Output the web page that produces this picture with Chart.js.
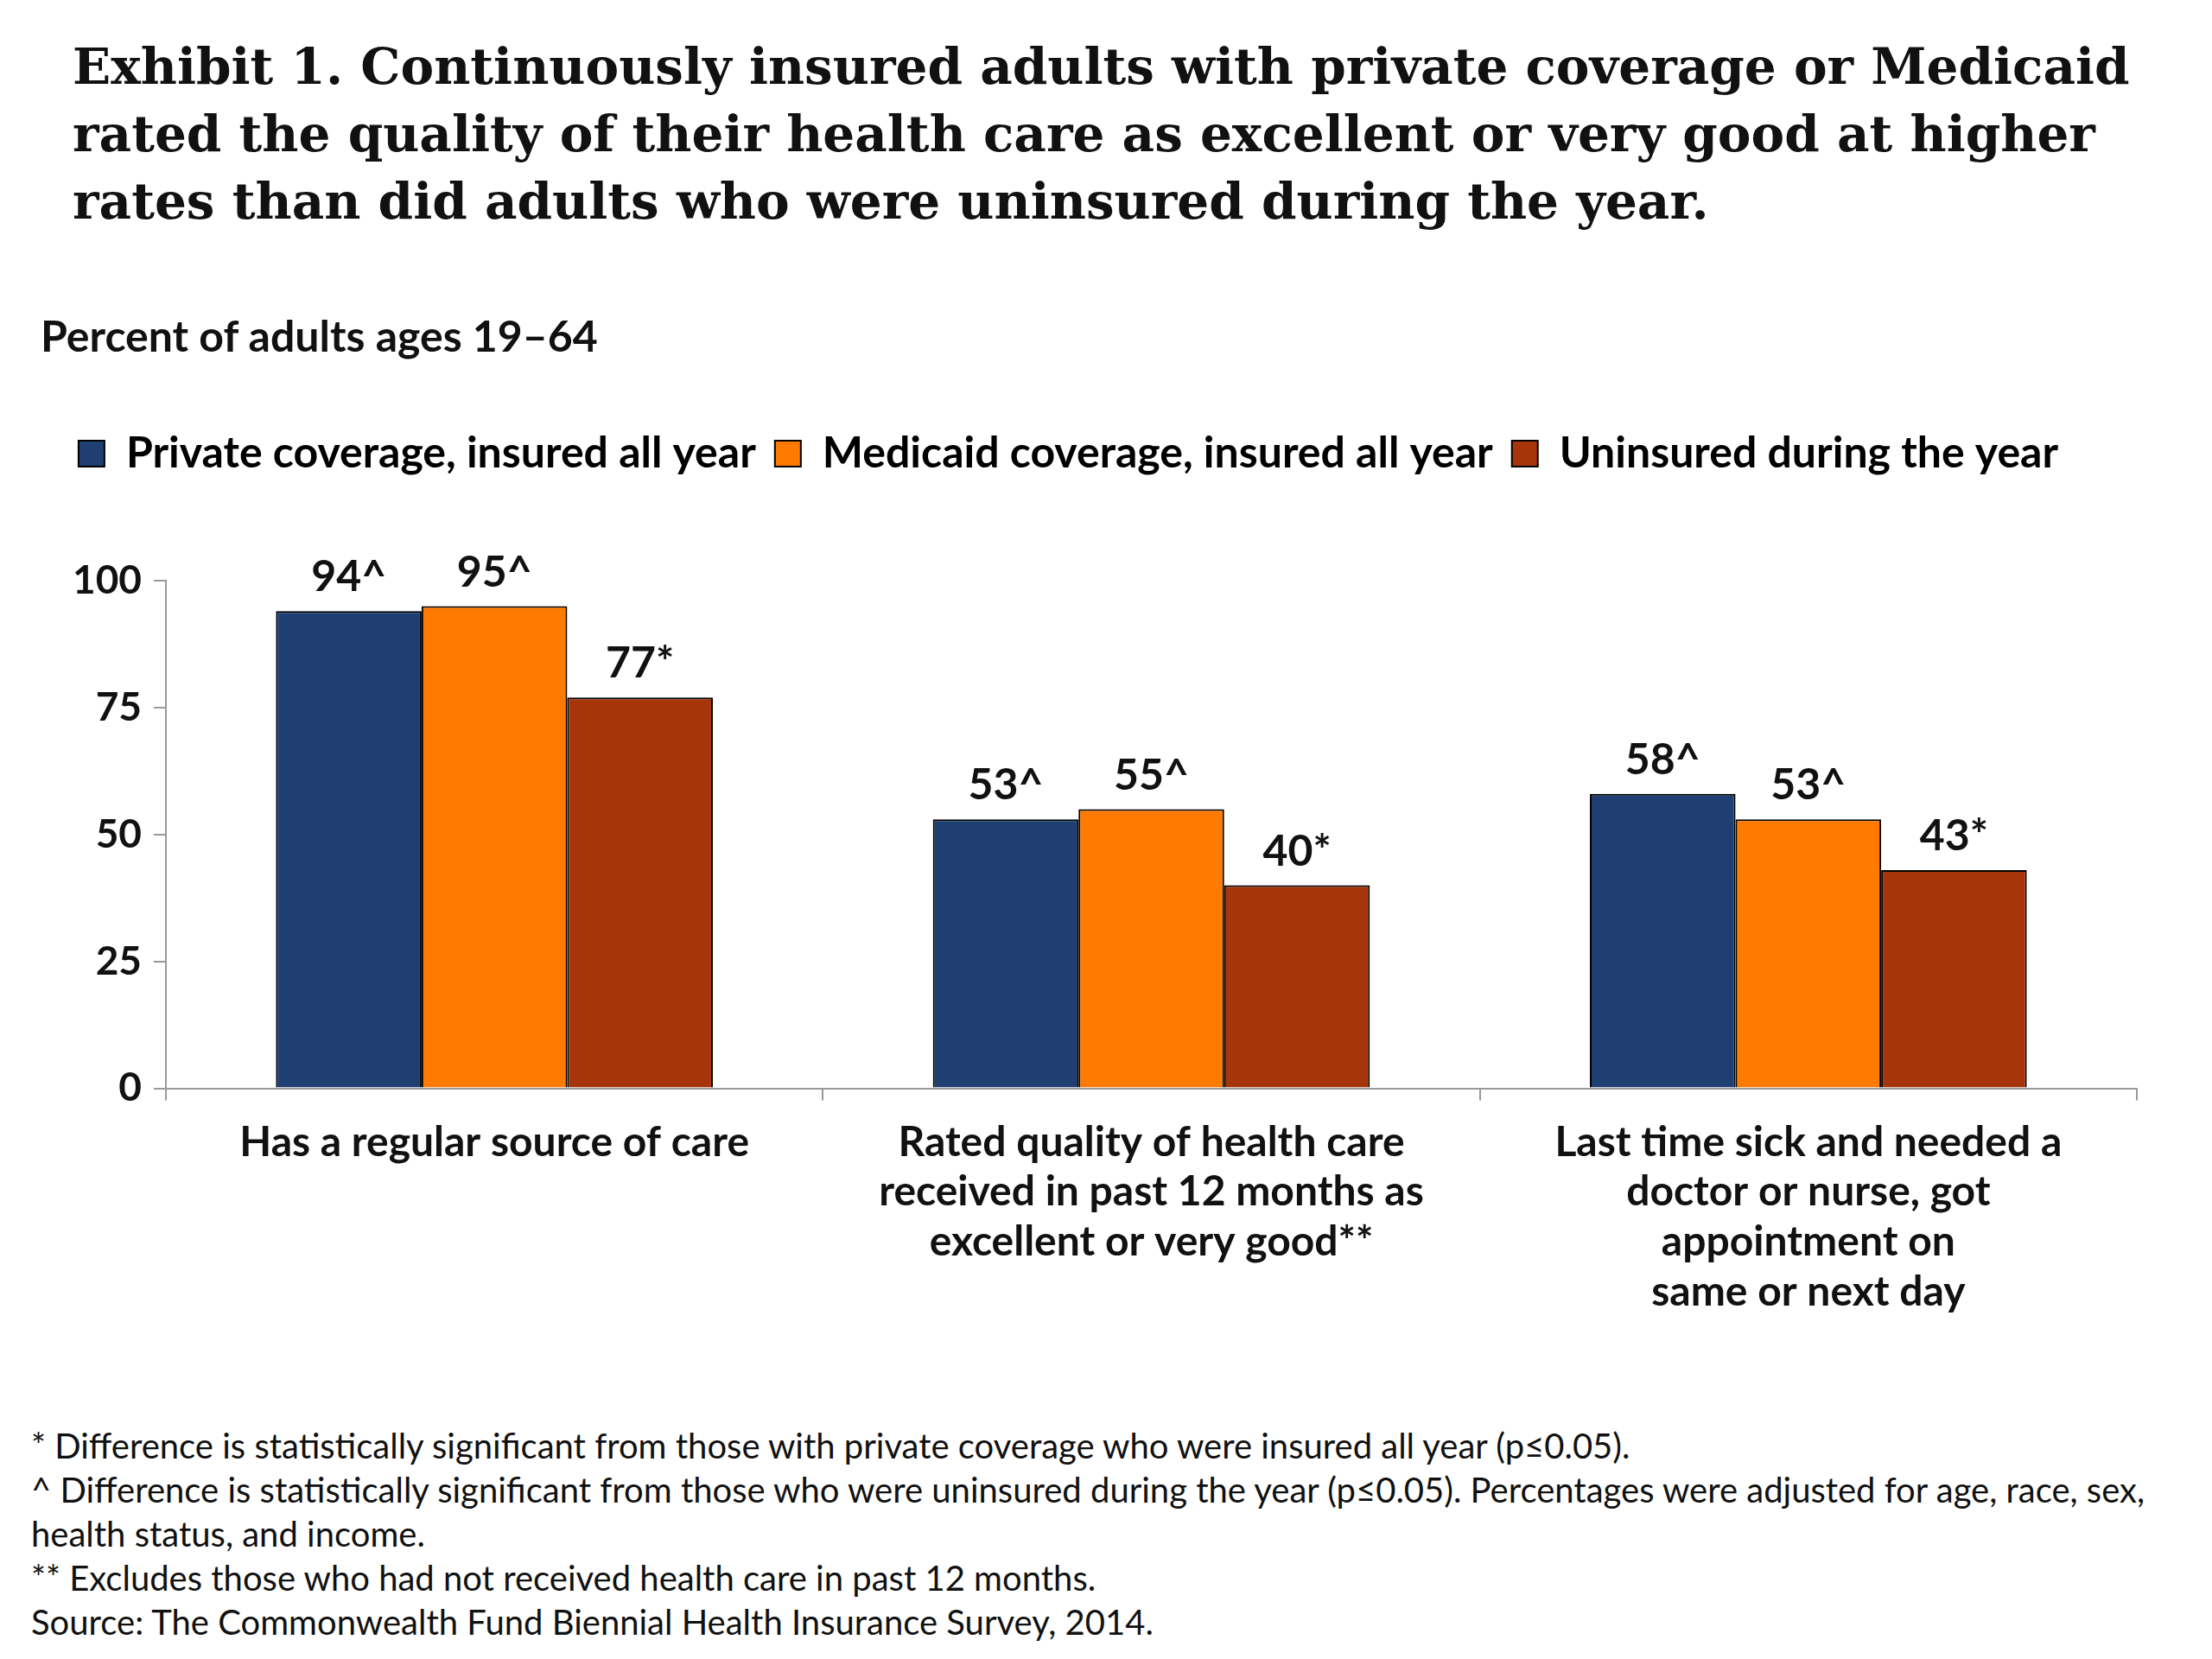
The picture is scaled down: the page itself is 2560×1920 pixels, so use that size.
<!DOCTYPE html>
<html>
<head>
<meta charset="utf-8">
<script src="https://cdn.jsdelivr.net/npm/chart.js@4.4.0/dist/chart.umd.min.js"></script>
<style>
  body { margin: 0; background: #fff; width: 2560px; height: 1920px; position: relative; overflow: hidden; font-family: Lato, sans-serif; }
  #title { position: absolute; left: 84px; top: 38px; width: 2450px; font-family: "DejaVu Serif", serif; font-weight: bold; font-size: 58px; line-height: 78px; color: #111; }
  #sub { position: absolute; left: 47px; top: 358px; font-size: 50px; font-weight: bold; color: #111; }
  #wrap { position: absolute; left: 0; top: 478px; width: 2560px; height: 1066px; }
  #notes { position: absolute; left: 36px; top: 1648px; width: 2500px; font-size: 40px; line-height: 51px; color: #111; }
</style>
</head>
<body>
<div id="title">Exhibit 1. Continuously insured adults with private coverage or Medicaid rated the quality of their health care as excellent or very good at higher rates than did adults who were uninsured during the year.</div>
<div id="sub">Percent of adults ages 19–64</div>
<div id="wrap"><canvas id="chart" width="2560" height="1066"></canvas></div>
<div id="notes">* Difference is statistically significant from those with private coverage who were insured all year (p≤0.05).<br>
^ Difference is statistically significant from those who were uninsured during the year (p≤0.05). Percentages were adjusted for age, race, sex, health status, and income.<br>
** Excludes those who had not received health care in past 12 months.<br>
Source: The Commonwealth Fund Biennial Health Insurance Survey, 2014.</div>
<script>
const categories = [
    ['Has a regular source of care'],
    ['Rated quality of health care', 'received in past 12 months as', 'excellent or very good**'],
    ['Last time sick and needed a', 'doctor or nurse, got', 'appointment on', 'same or next day']
];
const seriesNames = ['Private coverage, insured all year', 'Medicaid coverage, insured all year', 'Uninsured during the year'];
const privateValues = [94, 53, 58];
const medicaidValues = [95, 55, 53];
const uninsuredValues = [77, 40, 43];
const privateMarks = ['^', '^', '^'];
const medicaidMarks = ['^', '^', '^'];
const uninsuredMarks = ['*', '*', '*'];
const yTicks = [0, 25, 50, 75, 100];
const colors = ['#1f3f72', '#ff7a00', '#a6350b'];

const valueLabels = {
    id: 'valueLabels',
    afterDatasetsDraw(chart) {
        const ctx = chart.ctx;
        ctx.save();
        ctx.font = 'bold 50px Lato';
        ctx.fillStyle = '#111';
        ctx.textAlign = 'center';
        ctx.textBaseline = 'bottom';
        chart.data.datasets.forEach((ds, i) => {
            chart.getDatasetMeta(i).data.forEach((bar, j) => {
                ctx.fillText(ds.data[j] + ds.marks[j], bar.x, bar.y - 14);
            });
        });
        ctx.restore();
    }
};

// extra room between legend and plot
const legendGap = {
    id: 'legendGap',
    beforeInit(chart) {
        const fit = chart.legend.fit;
        chart.legend.fit = function () {
            fit.bind(chart.legend)();
            this.height += 112;
        };
    }
};

const values = [privateValues, medicaidValues, uninsuredValues];
const marks = [privateMarks, medicaidMarks, uninsuredMarks];

new Chart(document.getElementById('chart').getContext('2d'), {
    type: 'bar',
    data: {
        labels: categories,
        datasets: seriesNames.map((name, i) => ({
            label: name,
            data: values[i],
            marks: marks[i],
            backgroundColor: colors[i],
            borderColor: '#000',
            borderWidth: 2,
            categoryPercentage: 0.665,
            barPercentage: 1
        }))
    },
    options: {
        responsive: false,
        animation: false,
        devicePixelRatio: 1,
        layout: { padding: { left: 0, right: 87, top: 0, bottom: 0 } },
        plugins: {
            legend: {
                position: 'top',
                labels: {
                    font: { size: 50, weight: 'bold', family: 'Lato' },
                    color: '#111',
                    boxWidth: 30,
                    boxHeight: 30,
                    padding: 22,
                    generateLabels(chart) {
                        return chart.data.datasets.map((ds, i) => ({
                            text: ds.label, fillStyle: ds.backgroundColor,
                            strokeStyle: '#000', lineWidth: 2, datasetIndex: i
                        }));
                    }
                }
            },
            tooltip: { enabled: false }
        },
        scales: {
            y: {
                min: 0, max: 100,
                afterFit(scale) { scale.width = 192; },
                afterBuildTicks(scale) { scale.ticks = yTicks.map(v => ({ value: v })); },
                grid: { drawOnChartArea: false, color: '#999', tickLength: 14, lineWidth: 2 },
                border: { color: '#999', width: 2 },
                ticks: { font: { size: 46, weight: 'bold', family: 'Lato' }, color: '#111', padding: 14 }
            },
            x: {
                grid: { drawOnChartArea: false, offset: true, color: '#999', tickLength: 14, lineWidth: 2 },
                border: { color: '#999', width: 2 },
                ticks: { font: { size: 48, weight: 'bold', family: 'Lato' }, color: '#111', padding: 20, maxRotation: 0, autoSkip: false }
            }
        }
    },
    plugins: [valueLabels, legendGap]
});
</script>
</body>
</html>
